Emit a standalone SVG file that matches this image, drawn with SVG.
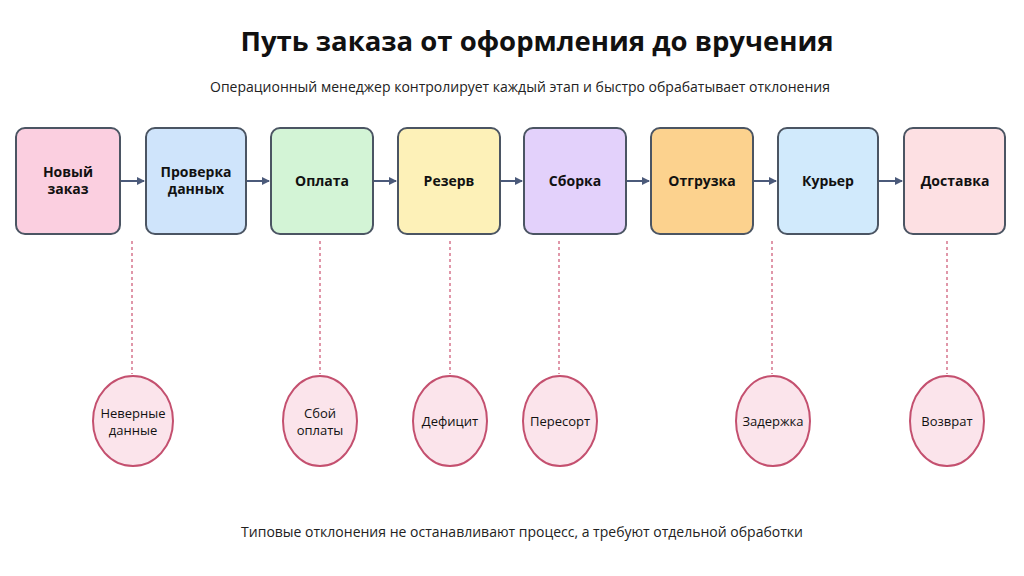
<svg xmlns="http://www.w3.org/2000/svg" width="1024" height="576" viewBox="0 0 1024 576">
<defs>
<style>
text{font-family:"Open Sans","Noto Sans",sans-serif;fill:#111;text-anchor:middle}
.b{stroke:#4b5563;stroke-width:2}
.bt{font-size:14px;font-weight:700}
.e{fill:#fbe4eb;stroke:#c4506f;stroke-width:2}
.et{font-size:13px}
.d{stroke:#d0607c;stroke-width:1.3;stroke-dasharray:3 3;fill:none}
.a{stroke:#4b5a7a;stroke-width:2;fill:none}
</style>
<marker id="ar" markerWidth="8" markerHeight="8" refX="7" refY="4" orient="auto" markerUnits="userSpaceOnUse"><path d="M0,0L8,4L0,8z" fill="#4b5a7a"/></marker>
</defs>
<rect width="1024" height="576" fill="#fff"/>
<text x="537" y="51" style="font-size:27.5px;font-weight:700">Путь заказа от оформления до вручения</text>
<text x="520" y="92" style="font-size:14px;fill:#222">Операционный менеджер контролирует каждый этап и быстро обрабатывает отклонения</text>
<g id="n1"><rect class="b" x="16" y="128" width="104" height="106" rx="9" fill="#fbcfe0"/><text class="bt" x="68" y="177">Новый</text><text class="bt" x="68" y="194">заказ</text></g>
<g id="n2"><rect class="b" x="146" y="128" width="100" height="106" rx="9" fill="#cfe4fb"/><text class="bt" x="196" y="177">Проверка</text><text class="bt" x="196" y="194">данных</text></g>
<g id="n3"><rect class="b" x="271" y="128" width="102" height="106" rx="9" fill="#d3f4d6"/><text class="bt" x="322" y="186">Оплата</text></g>
<g id="n4"><rect class="b" x="398" y="128" width="102" height="106" rx="9" fill="#fdf1b8"/><text class="bt" x="449" y="186">Резерв</text></g>
<g id="n5"><rect class="b" x="524" y="128" width="102" height="106" rx="9" fill="#e3d1fb"/><text class="bt" x="575" y="186">Сборка</text></g>
<g id="n6"><rect class="b" x="651" y="128" width="102" height="106" rx="9" fill="#fcd28e"/><text class="bt" x="702" y="186">Отгрузка</text></g>
<g id="n7"><rect class="b" x="778" y="128" width="100" height="106" rx="9" fill="#d1eafc"/><text class="bt" x="828" y="186">Курьер</text></g>
<g id="n8"><rect class="b" x="904" y="128" width="101" height="106" rx="9" fill="#fde0e3"/><text class="bt" x="955" y="186">Доставка</text></g>
<g id="connectors">
<line class="a" x1="121" y1="181" x2="144" y2="181" marker-end="url(#ar)"/>
<line class="a" x1="247" y1="181" x2="269" y2="181" marker-end="url(#ar)"/>
<line class="a" x1="374" y1="181" x2="396" y2="181" marker-end="url(#ar)"/>
<line class="a" x1="501" y1="181" x2="522" y2="181" marker-end="url(#ar)"/>
<line class="a" x1="627" y1="181" x2="649" y2="181" marker-end="url(#ar)"/>
<line class="a" x1="754" y1="181" x2="776" y2="181" marker-end="url(#ar)"/>
<line class="a" x1="879" y1="181" x2="902" y2="181" marker-end="url(#ar)"/>
<line class="d" x1="132" y1="241" x2="132" y2="374"/>
<line class="d" x1="320" y1="241" x2="320" y2="374"/>
<line class="d" x1="450" y1="241" x2="450" y2="374"/>
<line class="d" x1="559" y1="241" x2="559" y2="374"/>
<line class="d" x1="772" y1="241" x2="772" y2="374"/>
<line class="d" x1="947" y1="241" x2="947" y2="374"/>
</g>
<g id="e1"><ellipse class="e" cx="133" cy="421" rx="40" ry="45"/><text class="et" x="133" y="418">Неверные</text><text class="et" x="133" y="435">данные</text></g>
<g id="e2"><ellipse class="e" cx="320" cy="421" rx="37" ry="45"/><text class="et" x="320" y="418">Сбой</text><text class="et" x="320" y="435">оплаты</text></g>
<g id="e3"><ellipse class="e" cx="450" cy="421" rx="37" ry="45"/><text class="et" x="450" y="426">Дефицит</text></g>
<g id="e4"><ellipse class="e" cx="560" cy="421" rx="37" ry="45"/><text class="et" x="560" y="426">Пересорт</text></g>
<g id="e5"><ellipse class="e" cx="773" cy="421" rx="37" ry="45"/><text class="et" x="773" y="426">Задержка</text></g>
<g id="e6"><ellipse class="e" cx="947" cy="421" rx="37" ry="45"/><text class="et" x="947" y="426">Возврат</text></g>
<text x="522" y="537" style="font-size:14px;fill:#222">Типовые отклонения не останавливают процесс, а требуют отдельной обработки</text>
</svg>
